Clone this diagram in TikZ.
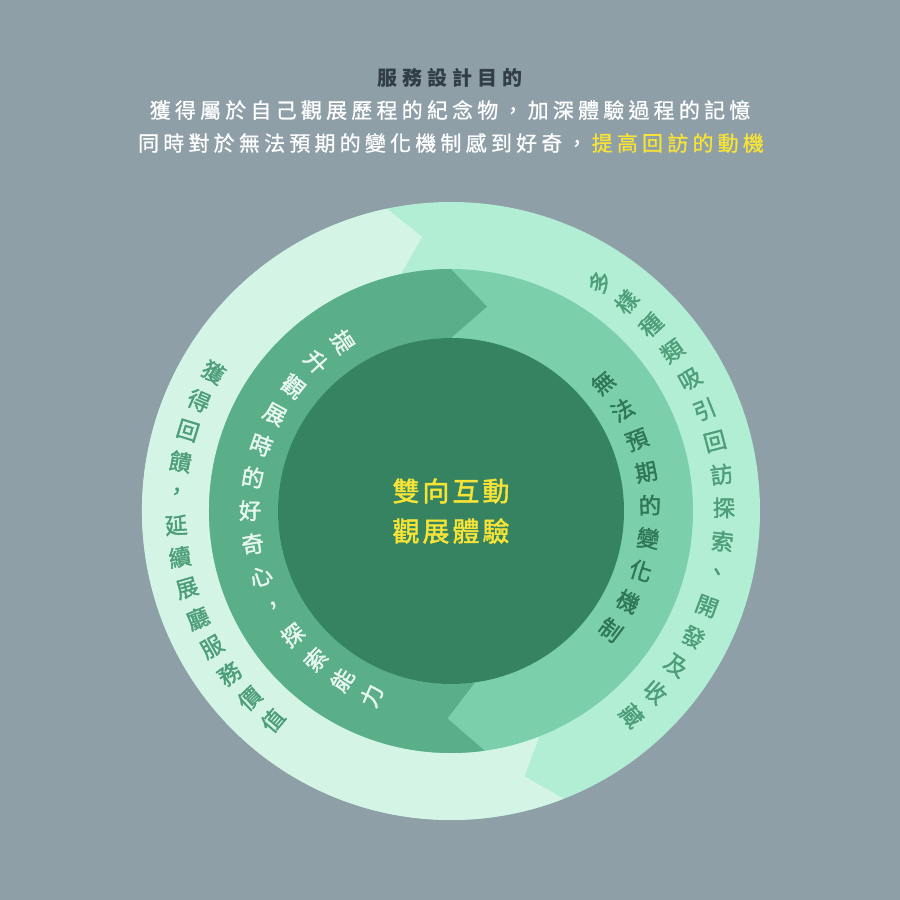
\documentclass[tikz,border=0pt]{standalone}
\usepackage{fontspec}
\setmainfont{Noto Sans CJK TC}
\newfontfamily\medf{Noto Sans CJK TC}[FakeBold=1.6]
\newfontfamily\semif{Noto Sans CJK TC}[FakeBold=0.8]
\definecolor{bg}{HTML}{8E9FA8}
\definecolor{outA}{HTML}{D4F5E5}
\definecolor{outB}{HTML}{B2EED3}
\definecolor{midA}{HTML}{5AAF88}
\definecolor{midB}{HTML}{7CCFAB}
\definecolor{core}{HTML}{358361}
\definecolor{ty}{HTML}{F7E437}
\definecolor{tdark}{HTML}{323E46}
\definecolor{tout}{HTML}{4D9E78}
\definecolor{tmidl}{HTML}{E8F7EF}
\definecolor{tmidr}{HTML}{2E7656}
\newlength\lspk
\def\lsp#1{\ifx#1\relax\kern-\lspk\else#1\kern\lspk\expandafter\lsp\fi}
\tikzset{
  ringtxt/.style={inner sep=0pt, font=\medf\fontsize{22.5}{26}\selectfont},
  titletxt/.style={inner sep=0pt, font=\semif\fontsize{21}{25}\selectfont, text=white},
}
\begin{document}
\begin{tikzpicture}[x=1pt,y=1pt]
\useasboundingbox (-451,-389) rectangle (449,511);
\fill[bg] (-451,-389) rectangle (449,511);
% outer ring
\fill[outB] (0,0) circle[radius=309pt];
\fill[outA] (102:309pt) arc[start angle=102, end angle=291.4, radius=309pt]
  -- (285.5:275.5pt) -- (291.4:242pt) arc[start angle=291.4, end angle=102, radius=242pt]
  -- (96:275.5pt) -- cycle;
% middle ring
\fill[midB] (0,0) circle[radius=242pt];
\fill[midA] (90:242pt) arc[start angle=90, end angle=278, radius=242pt]
  -- (269:207.5pt) -- (278:173pt) arc[start angle=278, end angle=90, radius=173pt]
  -- (80:207.5pt) -- cycle;
% core
\fill[core] (0,0) circle[radius=173pt];
% titles
\node[inner sep=0pt, font=\fontsize{20}{24}\selectfont\bfseries, text=tdark] (t1) at (-1,433)
  {\setlength\lspk{5pt}\lsp 服務設計目的\relax};
\node[titletxt] (t2) at (-1,401)
  {\setlength\lspk{4.2pt}\lsp 獲得屬於自己觀展歷程的紀念物，加深體驗過程的記憶\relax};
\node[titletxt] (t3) at (0,368)
  {\setlength\lspk{4.2pt}\lsp 同時對於無法預期的變化機制感到好奇，\relax\kern\lspk{\color{ty}\lsp 提高回訪的動機\relax}};
% center
\node[inner sep=0pt, font=\medf\fontsize{27}{32}\selectfont, text=ty] (c1) at (0,20)
  {\setlength\lspk{3pt}\lsp 雙向互動\relax};
\node[inner sep=0pt, font=\medf\fontsize{27}{32}\selectfont, text=ty] (c2) at (0,-20)
  {\setlength\lspk{3pt}\lsp 觀展體驗\relax};
% outer left text
\foreach \c [count=\i from 0] in {獲,得,回,饋,，,延,續,展,廳,服,務,價,值}{
  \pgfmathsetmacro\a{149.7+6.66*\i}
  \pgfmathsetmacro\r{\a-180}
  \node[ringtxt, text=tout, rotate=\r] (ol\i) at (\a:275pt) {\c};
}
% outer right text
\foreach \c [count=\i from 0] in {多,樣,種,類,吸,引,回,訪,探,索,、,開,發,及,收,藏}{
  \pgfmathsetmacro\a{57-7.04*\i}
  \node[ringtxt, text=tout, rotate=\a] (or\i) at (\a:273pt) {\c};
}
% middle left text
\foreach \c [count=\i from 0] in {提,升,觀,展,時,的,好,奇,心,，,探,索,能,力}{
  \pgfmathsetmacro\a{122.6+9.55*\i}
  \pgfmathsetmacro\r{\a-180}
  \node[ringtxt, text=tmidl, rotate=\r] (ml\i) at (\a:201pt) {\c};
}
% middle right text
\foreach \c [count=\i from 0] in {無,法,預,期,的,變,化,機,制}{
  \pgfmathsetmacro\a{40.1-9.6*\i}
  \node[ringtxt, text=tmidr, rotate=\a] (mr\i) at (\a:199pt) {\c};
}
\end{tikzpicture}
\end{document}
